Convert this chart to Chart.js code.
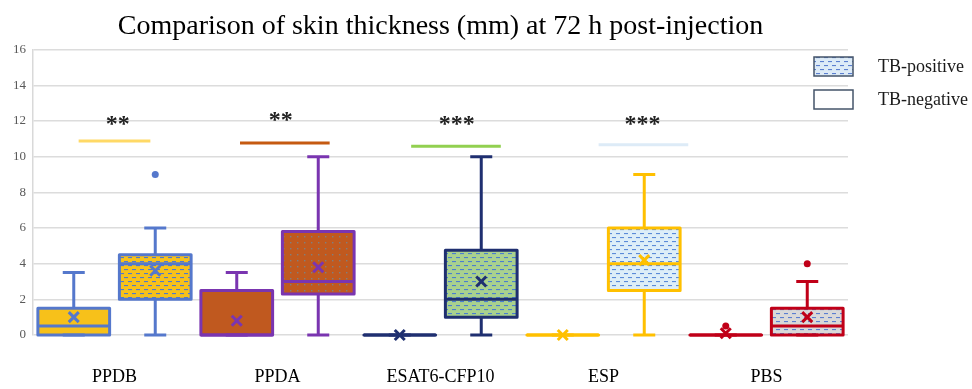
<!DOCTYPE html>
<html><head><meta charset="utf-8">
<script src="https://cdn.jsdelivr.net/npm/chart.js@4/dist/chart.umd.min.js"></script>
<style>html,body{margin:0;padding:0;background:#fff}#wrap{width:972px;height:389px;position:relative}</style>
</head><body><div id="wrap"><canvas id="c"></canvas></div>
<script>
// ---- data ----
const categories = ['PPDB', 'PPDA', 'ESAT6-CFP10', 'ESP', 'PBS'];
const seriesNames = ['TB-negative', 'TB-positive'];
// TB-negative
const negMin = [0, 0, 0, 0, 0];
const negQ1 = [0, 0, 0, 0, 0];
const negMedian = [0.5, 0, 0, 0, 0];
const negQ3 = [1.5, 2.5, 0, 0, 0];
const negMax = [3.5, 3.5, 0, 0, 0];
const negMean = [1.0, 0.8, 0, 0, 0.1];
const negOutliers = [[], [], [], [], [0.5]];
// TB-positive
const posMin = [0, 0, 0, 0, 0];
const posQ1 = [2.0, 2.3, 1.0, 2.5, 0];
const posMedian = [4.0, 3.0, 2.0, 4.0, 0.5];
const posQ3 = [4.5, 5.8, 4.75, 6.0, 1.5];
const posMax = [6.0, 10.0, 10.0, 9.0, 3.0];
const posMean = [3.6, 3.8, 3.0, 4.2, 1.0];
const posOutliers = [[9.0], [], [], [], [4.0]];
// significance marks
const sigCategories = ['PPDB', 'PPDA', 'ESAT6-CFP10', 'ESP'];
const sigLabels = ['**', '**', '***', '***'];
const sigLevel = [10.88, 10.77, 10.58, 10.66];
const sigLabelLevel = [12.0, 12.2, 12.0, 12.0];
const yTicks = [0, 2, 4, 6, 8, 10, 12, 14, 16];

// ---- styles ----
const borderColors = ['#5578CC', '#7A35B0', '#1F2F70', '#FFC000', '#C00018'];
const fillColors = ['#F7C11A', '#C0591F', '#A9D18E', '#DDEEF8', '#D9D9D9'];
const negFill = ['#F7C11A', '#C0591F', '#FFFFFF', '#FFFFFF', '#FFFFFF'];
const posPattern = ['dash', 'dots', 'dash', 'dash', 'dash'];
const dashColors = ['#4F7ACB', '#7F7F7F', '#4A7FD0', '#5B8BD8', '#5B7FD0'];
const sigColors = ['#FFD966', '#C55A11', '#92D050', '#DDEBF7'];
// annotation geometry (category units)
const sigSpan = [[-0.22, 0.22], [0.77, 1.32], [1.82, 2.37], [2.97, 3.52]];
const sigLabelX = [0.02, 1.02, 2.1, 3.24];

function makePattern(bg, kind, fg) {
  const c = document.createElement('canvas');
  const ctx = c.getContext('2d');
  if (kind === 'dots') {
    c.width = 7; c.height = 6;
    ctx.fillStyle = bg; ctx.fillRect(0, 0, 7, 6);
    ctx.fillStyle = fg; ctx.fillRect(3, 2, 1.4, 1.4);
  } else {
    c.width = 8; c.height = 8;
    ctx.fillStyle = bg; ctx.fillRect(0, 0, 8, 8);
    ctx.fillStyle = fg;
    ctx.fillRect(0, 1, 4, 1.1);
    ctx.fillRect(4, 5, 4, 1.1);
  }
  return document.createElement('canvas').getContext('2d').createPattern(c, 'repeat');
}
const posFills = categories.map((c, i) => makePattern(fillColors[i], posPattern[i], dashColors[i]));

const stats = [
  {min: negMin, q1: negQ1, med: negMedian, q3: negQ3, max: negMax, mean: negMean, out: negOutliers},
  {min: posMin, q1: posQ1, med: posMedian, q3: posQ3, max: posMax, mean: posMean, out: posOutliers}
];

const boxPlugin = {
  id: 'boxParts',
  afterDatasetsDraw(chart) {
    const ctx = chart.ctx;
    const ys = chart.scales.y;
    const xs = chart.scales.x;
    ctx.save();
    // significance lines and stars
    sigCategories.forEach((cat, k) => {
      const y = ys.getPixelForValue(sigLevel[k]);
      ctx.strokeStyle = sigColors[k];
      ctx.lineWidth = 3;
      ctx.beginPath();
      ctx.moveTo(xs.getPixelForValue(sigSpan[k][0]), y);
      ctx.lineTo(xs.getPixelForValue(sigSpan[k][1]), y);
      ctx.stroke();
      ctx.fillStyle = '#222';
      ctx.font = 'bold 24px "Liberation Serif"';
      ctx.textAlign = 'center';
      ctx.textBaseline = 'alphabetic';
      ctx.fillText(sigLabels[k], xs.getPixelForValue(sigLabelX[k]), ys.getPixelForValue(sigLabelLevel[k]) + 10);
    });
    stats.forEach((s, d) => {
      const meta = chart.getDatasetMeta(d);
      meta.data.forEach((el, i) => {
        const x = el.x, w = el.width;
        const col = borderColors[i];
        const yq1 = ys.getPixelForValue(s.q1[i]);
        const yq3 = ys.getPixelForValue(s.q3[i]);
        const ymin = ys.getPixelForValue(s.min[i]);
        const ymax = ys.getPixelForValue(s.max[i]);
        const ymed = ys.getPixelForValue(s.med[i]);
        const cap = 22;
        ctx.strokeStyle = col;
        ctx.lineWidth = 3;
        ctx.lineCap = 'butt';
        ctx.beginPath();
        if (ymax < yq3) { ctx.moveTo(x, ymax); ctx.lineTo(x, yq3); }
        if (ymin > yq1) { ctx.moveTo(x, yq1); ctx.lineTo(x, ymin); }
        ctx.moveTo(x - cap / 2, ymax); ctx.lineTo(x + cap / 2, ymax);
        ctx.moveTo(x - cap / 2, ymin); ctx.lineTo(x + cap / 2, ymin);
        ctx.stroke();
        // box
        ctx.lineJoin = 'round';
        ctx.strokeRect(x - w / 2, yq3, w, yq1 - yq3);
        // median
        ctx.beginPath();
        ctx.moveTo(x - w / 2, ymed); ctx.lineTo(x + w / 2, ymed);
        ctx.stroke();
        // outliers
        ctx.fillStyle = col;
        s.out[i].forEach(v => {
          ctx.beginPath();
          ctx.arc(x, ys.getPixelForValue(v), 3.5, 0, Math.PI * 2);
          ctx.fill();
        });
        // mean marker
        const ym = ys.getPixelForValue(s.mean[i]);
        const r = 5;
        ctx.beginPath();
        ctx.moveTo(x - r, ym - r); ctx.lineTo(x + r, ym + r);
        ctx.moveTo(x + r, ym - r); ctx.lineTo(x - r, ym + r);
        ctx.stroke();
      });
    });
    ctx.restore();
  },
  afterDraw(chart) {
    const ctx = chart.ctx;
    ctx.save();
    const items = [
      {label: seriesNames[1], fill: makePattern('#DDEBF7', 'dash', '#5B7FD0')},
      {label: seriesNames[0], fill: '#FFFFFF'}
    ];
    items.forEach((it, k) => {
      const bx = 814, by = 57 + k * 33, bw = 39, bh = 19;
      ctx.fillStyle = it.fill;
      ctx.fillRect(bx, by, bw, bh);
      ctx.strokeStyle = '#44546A';
      ctx.lineWidth = 1.5;
      ctx.strokeRect(bx, by, bw, bh);
      ctx.fillStyle = '#1A1A1A';
      ctx.font = '18px "Liberation Serif"';
      ctx.textAlign = 'left';
      ctx.textBaseline = 'middle';
      ctx.fillText(it.label, 878, by + bh / 2 + 1);
    });
    ctx.restore();
  }
};

new Chart(document.getElementById('c'), {
  type: 'bar',
  data: {
    labels: categories,
    datasets: [
      {label: seriesNames[0], data: categories.map((c, i) => [negQ1[i], negQ3[i]]), backgroundColor: negFill, borderWidth: 0},
      {label: seriesNames[1], data: categories.map((c, i) => [posQ1[i], posQ3[i]]), backgroundColor: posFills, borderWidth: 0}
    ]
  },
  options: {
    responsive: true,
    maintainAspectRatio: false,
    animation: false,
    categoryPercentage: 1.0,
    barPercentage: 0.88,
    layout: {padding: {left: 6, right: 124, top: 0, bottom: 0}},
    plugins: {
      legend: {display: false},
      tooltip: {enabled: false},
      title: {
        display: true,
        text: 'Comparison of skin thickness (mm) at 72 h post-injection',
        fullSize: false,
        color: '#000',
        font: {family: 'Liberation Serif', size: 28, weight: 'normal'},
        padding: {top: 10, bottom: 6}
      }
    },
    scales: {
      x: {
        grid: {display: false, drawTicks: false},
        border: {display: false},
        afterFit: (scale) => { scale.height = 54; },
        ticks: {color: '#000', font: {family: 'Liberation Serif', size: 18}, padding: 31, maxRotation: 0, minRotation: 0, autoSkip: false}
      },
      y: {
        min: 0, max: 16,
        afterBuildTicks: (scale) => { scale.ticks = yTicks.map(v => ({value: v})); },
        grid: {color: '#DCDCDC', lineWidth: 1.5, drawTicks: false},
        border: {display: true, color: '#D9D9D9', width: 1.5},
        ticks: {color: '#595959', font: {family: 'Liberation Serif', size: 13}, padding: 7}
      }
    }
  },
  plugins: [boxPlugin]
});
</script>
</body></html>
